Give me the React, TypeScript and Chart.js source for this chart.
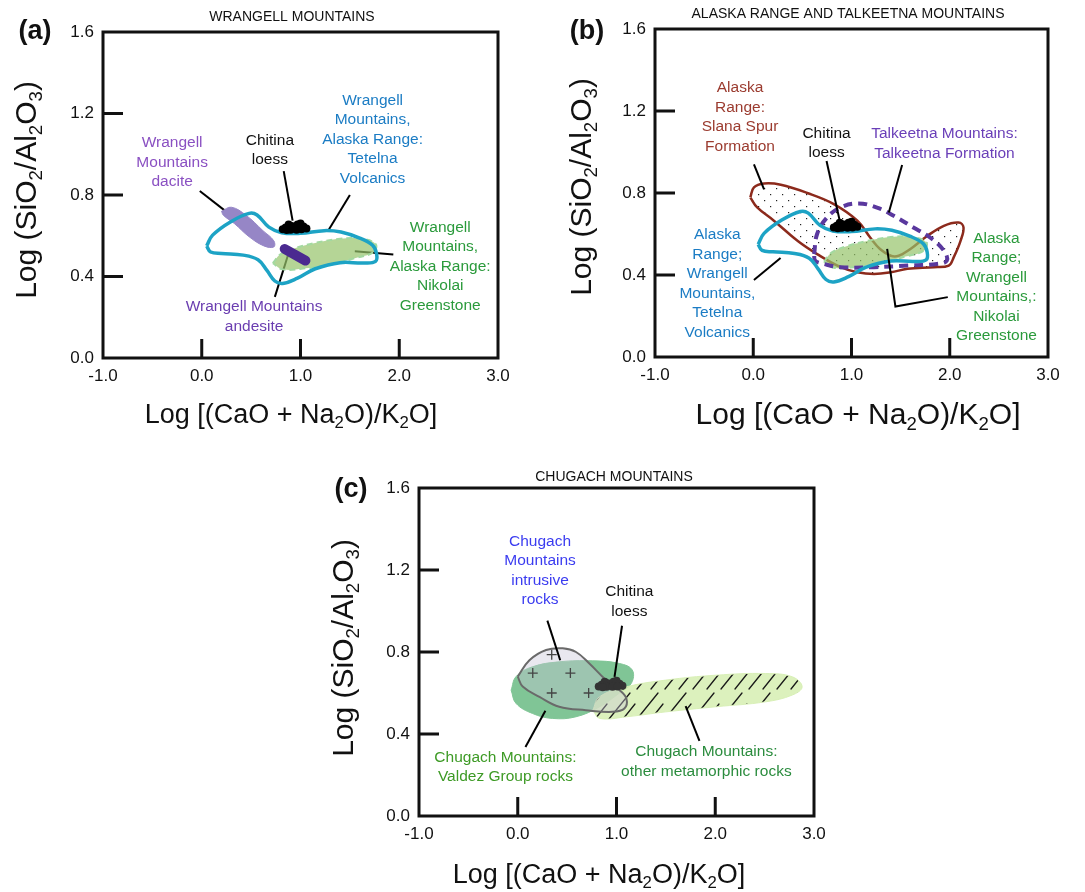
import React, { useEffect, useRef } from "react";
import { Chart, registerables } from "chart.js";
Chart.register(...registerables);

const FONT = '"Liberation Sans", Arial, Helvetica, sans-serif';

// ---------- axis ----------
const xMin = -1, xMax = 3, xStep = 1;
const yMin = 0, yMax = 1.6, yStep = 0.4;
const xTickMarks = [0, 1, 2];
const yTickMarks = [0.4, 0.8, 1.2];

// ---------- shared units ----------
const tetelnaX = [0.05, 0.11, 0.29, 0.48, 0.56, 0.68, 0.81, 1.0, 1.24, 1.41, 1.6, 1.73, 1.77, 1.76, 1.64, 1.4, 1.15, 0.97, 0.82, 0.74, 0.66, 0.57, 0.42, 0.2, 0.09];
const tetelnaY = [0.55, 0.603, 0.668, 0.71, 0.702, 0.642, 0.615, 0.612, 0.625, 0.618, 0.588, 0.553, 0.512, 0.474, 0.466, 0.468, 0.438, 0.392, 0.366, 0.378, 0.43, 0.482, 0.505, 0.513, 0.52];

const nikolaiX = [0.72, 0.8, 0.95, 1.15, 1.4, 1.62, 1.76, 1.74, 1.55, 1.3, 1.05, 0.82];
const nikolaiY = [0.465, 0.51, 0.54, 0.565, 0.585, 0.585, 0.56, 0.52, 0.49, 0.46, 0.44, 0.435];

const loessX = [0.82, 0.85, 0.88, 0.91, 0.94, 0.97, 1.0, 1.03, 1.06, 0.9, 0.96, 0.86, 1.01];
const loessY = [0.632, 0.64, 0.655, 0.648, 0.635, 0.655, 0.66, 0.645, 0.635, 0.63, 0.63, 0.628, 0.632];

// ---------- panel (a) ----------
const daciteX = [0.2, 0.3, 0.45, 0.62, 0.73, 0.73, 0.63, 0.48, 0.33, 0.22];
const daciteY = [0.72, 0.74, 0.7, 0.625, 0.575, 0.545, 0.55, 0.595, 0.66, 0.7];
const andesiteX = [0.84, 1.05];
const andesiteY = [0.535, 0.478];

// ---------- panel (b) ----------
const slanaX = [-0.03, 0.007, 0.11, 0.28, 0.55, 0.82, 1.06, 1.19, 1.29, 1.4, 1.48, 1.6, 1.77, 1.94, 2.09, 2.14, 2.11, 2.04, 1.99, 1.84, 1.57, 1.4, 1.23, 1.06, 0.89, 0.65, 0.45, 0.21, 0.04];
const slanaY = [0.778, 0.827, 0.846, 0.84, 0.8, 0.746, 0.665, 0.583, 0.527, 0.494, 0.494, 0.527, 0.59, 0.64, 0.656, 0.632, 0.567, 0.486, 0.446, 0.438, 0.43, 0.413, 0.405, 0.413, 0.438, 0.502, 0.567, 0.665, 0.73];
const talkeetnaX = [0.62, 0.65, 0.75, 0.89, 1.07, 1.26, 1.43, 1.63, 1.8, 1.94, 1.97, 1.87, 1.57, 1.23, 0.89, 0.72, 0.63];
const talkeetnaY = [0.502, 0.6, 0.68, 0.73, 0.749, 0.729, 0.689, 0.632, 0.583, 0.519, 0.47, 0.454, 0.446, 0.438, 0.438, 0.454, 0.47];

// ---------- panel (c) ----------
const valdezX = [-0.067, -0.017, 0.15, 0.42, 0.76, 1.03, 1.16, 1.15, 1.03, 0.83, 0.59, 0.35, 0.15, -0.017];
const valdezY = [0.614, 0.68, 0.728, 0.752, 0.757, 0.744, 0.712, 0.647, 0.6, 0.533, 0.484, 0.476, 0.5, 0.549];
const intrusiveX = [0, 0.118, 0.287, 0.455, 0.59, 0.725, 0.894, 1.03, 1.1, 1.08, 0.96, 0.69, 0.42, 0.22, 0.05];
const intrusiveY = [0.68, 0.76, 0.81, 0.818, 0.8, 0.744, 0.663, 0.614, 0.573, 0.524, 0.508, 0.516, 0.533, 0.581, 0.632];
const metamorphicX = [0.76, 0.826, 1.1, 1.5, 2.01, 2.51, 2.78, 2.88, 2.78, 2.51, 2.01, 1.5, 1.1, 0.83];
const metamorphicY = [0.516, 0.581, 0.63, 0.663, 0.687, 0.695, 0.679, 0.63, 0.59, 0.557, 0.533, 0.508, 0.484, 0.476];
const crossX = [0.344, 0.152, 0.533, 0.344, 0.718];
const crossY = [0.787, 0.697, 0.697, 0.6, 0.6];

// ---------- leader lines ----------
const leadersA = [
  { x: [-0.02, 0.28], y: [0.82, 0.706] },
  { x: [0.83, 0.92], y: [0.917, 0.674] },
  { x: [1.5, 1.28], y: [0.8, 0.625] },
  { x: [1.55, 1.94], y: [0.524, 0.508] },
  { x: [0.74, 0.89], y: [0.3, 0.53] },
];
const leadersB = [
  { x: [0.007, 0.11], y: [0.94, 0.818] },
  { x: [0.746, 0.888], y: [0.956, 0.648] },
  { x: [1.515, 1.38], y: [0.937, 0.705] },
  { x: [0.007, 0.278], y: [0.376, 0.483] },
  { x: [1.98, 1.447, 1.363], y: [0.292, 0.246, 0.527] },
];
const leadersC = [
  { x: [0.3, 0.43], y: [0.953, 0.76] },
  { x: [1.056, 0.98], y: [0.928, 0.679] },
  { x: [0.078, 0.28], y: [0.337, 0.513] },
  { x: [1.84, 1.7], y: [0.366, 0.536] },
];

// ---------- labels ----------
const labelsA = [
  { lines: ["Wrangell", "Mountains", "dacite"], x: -0.3, y: 1.055, color: "#8a50c2" },
  { lines: ["Chitina", "loess"], x: 0.69, y: 1.068, color: "#111" },
  { lines: ["Wrangell", "Mountains,", "Alaska Range:", "Tetelna", "Volcanics"], x: 1.73, y: 1.265, color: "#1b7cc4" },
  { lines: ["Wrangell", "Mountains,", "Alaska Range:", "Nikolai", "Greenstone"], x: 2.415, y: 0.64, color: "#2a9a3b" },
  { lines: ["Wrangell Mountains", "andesite"], x: 0.53, y: 0.25, color: "#6a3db0" },
];
const labelsB = [
  { lines: ["Alaska", "Range:", "Slana Spur", "Formation"], x: -0.135, y: 1.313, color: "#9b3b2f" },
  { lines: ["Chitina", "loess"], x: 0.746, y: 1.09, color: "#111" },
  { lines: ["Talkeetna Mountains:", "Talkeetna Formation"], x: 1.946, y: 1.089, color: "#6a3fb8" },
  { lines: ["Alaska", "Range;", "Wrangell", "Mountains,", "Tetelna", "Volcanics"], x: -0.366, y: 0.596, color: "#1b7cc4" },
  { lines: ["Alaska", "Range;", "Wrangell", "Mountains,:", "Nikolai", "Greenstone"], x: 2.475, y: 0.579, color: "#2a9a3b" },
];
const labelsC = [
  { lines: ["Chugach", "Mountains", "intrusive", "rocks"], x: 0.226, y: 1.339, color: "#3b3cf0" },
  { lines: ["Chitina", "loess"], x: 1.13, y: 1.094, color: "#111" },
  { lines: ["Chugach Mountains:", "Valdez Group rocks"], x: -0.125, y: 0.285, color: "#3d9a25" },
  { lines: ["Chugach Mountains:", "other metamorphic rocks"], x: 1.91, y: 0.313, color: "#2b8c3e" },
];

const yTitleSegs = [["Log (SiO", false], ["2", true], ["/Al", false], ["2", true], ["O", false], ["3", true], [")", false]];
const xTitleSegs = [["Log [(CaO + Na", false], ["2", true], ["O)/K", false], ["2", true], ["O]", false]];

// ---------- helpers ----------
const pts = (xs: number[], ys: number[]) => xs.map((x, i) => ({ x, y: ys[i] }));
const closed = (xs: number[], ys: number[]) => {
  const p = pts(xs, ys);
  return [...p, { ...p[0] }];
};

function dotPattern() {
  const c = document.createElement("canvas");
  c.width = 12; c.height = 12;
  const g = c.getContext("2d")!;
  g.fillStyle = "#ffffff";
  g.fillRect(0, 0, 12, 12);
  g.fillStyle = "#222";
  g.fillRect(2, 2, 1.2, 1.2);
  g.fillRect(8, 8, 1.2, 1.2);
  return g.createPattern(c, "repeat");
}
function hatchPattern() {
  const c = document.createElement("canvas");
  c.width = 28; c.height = 30;
  const g = c.getContext("2d")!;
  g.fillStyle = "rgba(214,238,178,0.85)";
  g.fillRect(0, 0, 28, 30);
  g.strokeStyle = "#1a1a1a";
  g.lineWidth = 1.3;
  g.lineCap = "round";
  g.beginPath();
  g.moveTo(1, 29); g.lineTo(22, 3);
  g.moveTo(15, 29); g.lineTo(27, 14);
  g.stroke();
  return g.createPattern(c, "repeat");
}

function drawRich(ctx: CanvasRenderingContext2D, segs: any[], cx: number, cy: number, size: number, rot: boolean) {
  ctx.save();
  ctx.translate(cx, cy);
  if (rot) ctx.rotate(-Math.PI / 2);
  const sub = size * 0.62;
  const ws: number[] = [];
  let total = 0;
  for (const [t, s] of segs) {
    ctx.font = `${s ? sub : size}px ${FONT}`;
    const w = ctx.measureText(t).width;
    ws.push(w);
    total += w;
  }
  let x = -total / 2;
  ctx.textAlign = "left";
  ctx.textBaseline = "alphabetic";
  ctx.fillStyle = "#111";
  const base = size * 0.36;
  segs.forEach(([t, s], i) => {
    ctx.font = `${s ? sub : size}px ${FONT}`;
    ctx.fillText(t, x, s ? base + size * 0.2 : base);
    x += ws[i];
  });
  ctx.restore();
}

const shape = (xs: number[], ys: number[], o: any) => ({
  data: closed(xs, ys),
  showLine: true,
  pointRadius: 0,
  tension: 0.4,
  borderJoinStyle: "round",
  ...o,
});
const leaderSets = (ls: any[], order: number) =>
  ls.map((l) => ({
    data: pts(l.x, l.y),
    showLine: true,
    pointRadius: 0,
    tension: 0,
    borderColor: "#000",
    borderWidth: 2,
    fill: false,
    order,
  }));
const loessSet = (color: string, order: number) => ({
  data: pts(loessX, loessY),
  pointRadius: 4,
  pointBackgroundColor: color,
  pointBorderWidth: 0,
  backgroundColor: color,
  borderColor: color,
  showLine: false,
  order,
});

// ---------- panels ----------
const panels = [
  {
    id: "a", left: 0, top: 0, w: 540, h: 440,
    padding: { left: 63, top: 32, right: 42, bottom: 52 },
    letter: "(a)", letterPos: [35, 32],
    title: "WRANGELL MOUNTAINS", titlePos: [292, 17],
    yTitlePos: [25, 190], xTitlePos: [291, 413], xTitleSize: 27,
    labels: labelsA,
    datasets: () => [
      ...leaderSets(leadersA, 10),
      shape(nikolaiX, nikolaiY, { fill: "shape", backgroundColor: "rgba(150,195,105,0.7)", borderColor: "#a3d9a0", borderWidth: 2, borderDash: [6, 4], order: 8 }),
      shape(daciteX, daciteY, { fill: "shape", backgroundColor: "#9686c6", borderColor: "#9686c6", borderWidth: 1, order: 7 }),
      shape(tetelnaX, tetelnaY, { fill: false, borderColor: "#1da3c5", borderWidth: 3.5, order: 5 }),
      { data: pts(andesiteX, andesiteY), showLine: true, pointRadius: 0, borderColor: "#4b2a90", borderWidth: 10, borderCapStyle: "round", fill: false, order: 3 },
      loessSet("#000", 2),
    ],
  },
  {
    id: "b", left: 540, top: 0, w: 545, h: 440,
    padding: { left: 75, top: 29, right: 37, bottom: 53 },
    letter: "(b)", letterPos: [47, 32],
    title: "ALASKA RANGE AND TALKEETNA MOUNTAINS", titlePos: [308, 14],
    yTitlePos: [40, 187], xTitlePos: [318, 413], xTitleSize: 30,
    labels: labelsB,
    datasets: () => [
      ...leaderSets(leadersB, 1),
      shape(slanaX, slanaY, { fill: "shape", backgroundColor: dotPattern(), borderColor: "#8c2a1c", borderWidth: 2.5, order: 9 }),
      shape(nikolaiX, nikolaiY, { fill: "shape", backgroundColor: "rgba(150,195,105,0.7)", borderColor: "#a3d9a0", borderWidth: 2, borderDash: [6, 4], order: 8 }),
      shape(talkeetnaX, talkeetnaY, { fill: false, borderColor: "#5a389e", borderWidth: 4, borderDash: [9, 6], order: 6 }),
      shape(tetelnaX, tetelnaY, { fill: false, borderColor: "#1da3c5", borderWidth: 3.5, order: 5 }),
      loessSet("#000", 3),
    ],
  },
  {
    id: "c", left: 300, top: 450, w: 540, h: 442,
    padding: { left: 79, top: 38, right: 26, bottom: 46 },
    letter: "(c)", letterPos: [51, 40],
    title: "CHUGACH MOUNTAINS", titlePos: [314, 27],
    yTitlePos: [42, 198], xTitlePos: [299, 423], xTitleSize: 27,
    labels: labelsC,
    datasets: () => [
      ...leaderSets(leadersC, 1),
      shape(valdezX, valdezY, { fill: "shape", backgroundColor: "#80c596", borderColor: "#80c596", borderWidth: 1, order: 9 }),
      shape(metamorphicX, metamorphicY, { fill: "shape", backgroundColor: hatchPattern(), borderColor: "rgba(214,238,178,0.9)", borderWidth: 1, order: 8 }),
      shape(intrusiveX, intrusiveY, { fill: "shape", backgroundColor: "rgba(200,198,215,0.4)", borderColor: "#6a6a6a", borderWidth: 2, order: 7 }),
      { data: pts(crossX, crossY), pointStyle: "cross", pointRadius: 5, pointBorderColor: "#444", pointBorderWidth: 1.3, borderColor: "#444", showLine: false, order: 5 },
      loessSet("#333", 4),
    ],
  },
];

function makeDecor(p: any) {
  return {
    id: "decor",
    afterDatasetsDraw(chart: any) {
      const { ctx, chartArea: a, scales } = chart;
      const xs = scales.x, ys = scales.y;
      ctx.save();
      ctx.strokeStyle = "#111";
      ctx.lineWidth = 3;
      ctx.strokeRect(a.left, a.top, a.right - a.left, a.bottom - a.top);
      ctx.beginPath();
      for (const v of xTickMarks) {
        const px = xs.getPixelForValue(v);
        ctx.moveTo(px, a.bottom);
        ctx.lineTo(px, a.bottom - 19);
      }
      for (const v of yTickMarks) {
        const py = ys.getPixelForValue(v);
        ctx.moveTo(a.left, py);
        ctx.lineTo(a.left + 20, py);
      }
      ctx.stroke();
      ctx.restore();
    },
    afterDraw(chart: any) {
      const { ctx, scales } = chart;
      const xs = scales.x, ys = scales.y;
      ctx.save();
      ctx.textAlign = "center";
      ctx.textBaseline = "middle";
      ctx.font = `15.5px ${FONT}`;
      for (const l of p.labels) {
        ctx.fillStyle = l.color;
        const cx = xs.getPixelForValue(l.x);
        const cy = ys.getPixelForValue(l.y);
        l.lines.forEach((t: string, i: number) => ctx.fillText(t, cx, cy + i * 19.5));
      }
      ctx.fillStyle = "#111";
      ctx.font = `14px ${FONT}`;
      ctx.fillText(p.title, p.titlePos[0], p.titlePos[1]);
      ctx.font = `bold 27px ${FONT}`;
      ctx.fillText(p.letter, p.letterPos[0], p.letterPos[1]);
      ctx.restore();
      drawRich(ctx, yTitleSegs, p.yTitlePos[0], p.yTitlePos[1], 30, true);
      drawRich(ctx, xTitleSegs, p.xTitlePos[0], p.xTitlePos[1], p.xTitleSize, false);
    },
  };
}

function buildConfig(p: any): any {
  return {
    type: "scatter",
    data: { datasets: p.datasets() },
    options: {
      responsive: false,
      animation: false,
      events: [],
      layout: { padding: p.padding },
      plugins: { legend: { display: false }, tooltip: { enabled: false }, title: { display: false } },
      scales: {
        x: {
          type: "linear", min: xMin, max: xMax,
          grid: { display: false, drawTicks: false },
          border: { display: false },
          ticks: { stepSize: xStep, padding: 8, maxRotation: 0, color: "#111", font: { size: 17, family: FONT }, callback: (v: any) => Number(v).toFixed(1) },
          afterFit: (s: any) => { s.height = 30; },
        },
        y: {
          type: "linear", min: yMin, max: yMax,
          grid: { display: false, drawTicks: false },
          border: { display: false },
          ticks: { stepSize: yStep, padding: 9, color: "#111", font: { size: 17, family: FONT }, callback: (v: any) => Number(v).toFixed(1) },
          afterFit: (s: any) => { s.width = 40; },
        },
      },
    },
    plugins: [makeDecor(p)],
  };
}

function Panel({ p }: { p: any }) {
  const ref = useRef<HTMLCanvasElement | null>(null);
  useEffect(() => {
    const chart = new Chart(ref.current!, buildConfig(p));
    return () => chart.destroy();
  }, [p]);
  return (
    <canvas
      ref={ref}
      width={p.w}
      height={p.h}
      style={{ position: "absolute", left: p.left, top: p.top, width: p.w, height: p.h }}
    />
  );
}

export default function App() {
  return (
    <div style={{ position: "absolute", left: 0, top: 0, width: 1085, height: 892, background: "#fff" }}>
      {panels.map((p) => (
        <Panel key={p.id} p={p} />
      ))}
    </div>
  );
}
